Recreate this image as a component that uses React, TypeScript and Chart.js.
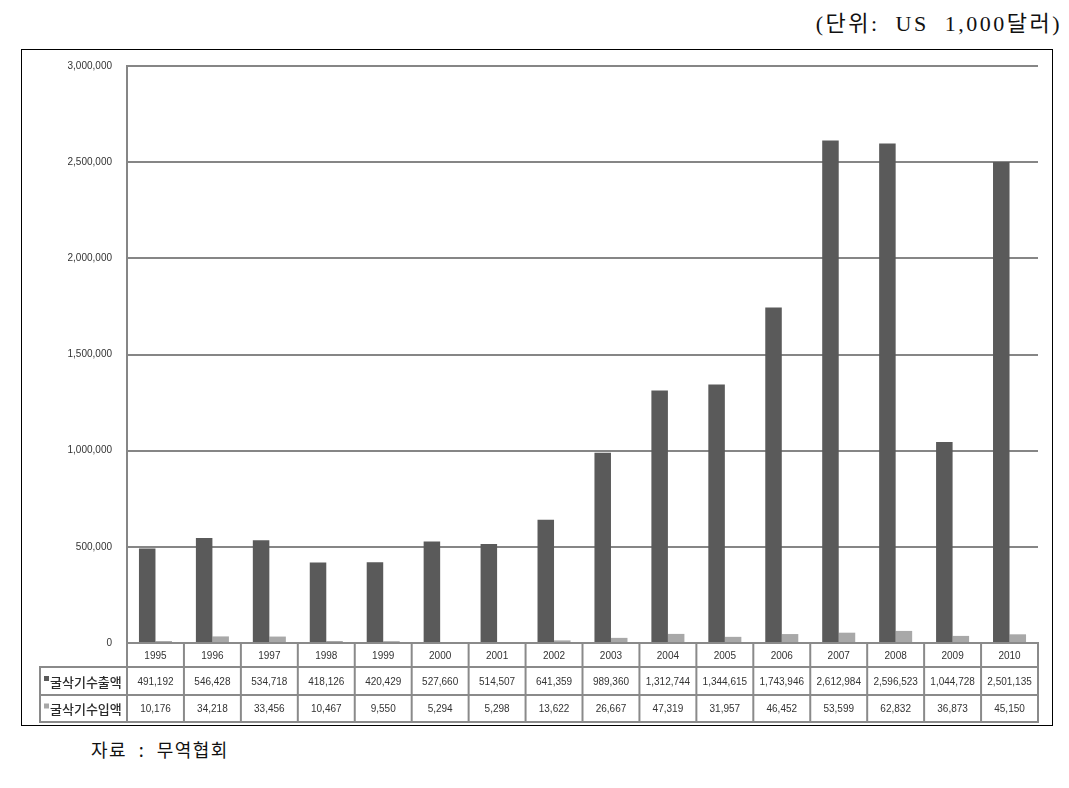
import React, { useEffect, useRef } from "react";
import { Chart, registerables } from "chart.js";

Chart.register(...registerables);

const years = ["1995", "1996", "1997", "1998", "1999", "2000", "2001", "2002", "2003", "2004", "2005", "2006", "2007", "2008", "2009", "2010"];
const exportValues = [491192, 546428, 534718, 418126, 420429, 527660, 514507, 641359, 989360, 1312744, 1344615, 1743946, 2612984, 2596523, 1044728, 2501135];
const importValues = [10176, 34218, 33456, 10467, 9550, 5294, 5298, 13622, 26667, 47319, 31957, 46452, 53599, 62832, 36873, 45150];
const seriesNames = ["굴삭기수출액", "굴삭기수입액"];
const seriesColors = ["#5a5a5a", "#a8a8a8"];
const yMin = 0;
const yMax = 3000000;
const yStep = 500000;
const unitText = "(단위:  US  1,000달러)";
const sourceText = "자료 : 무역협회";

const fmt = (v: number) => v.toLocaleString("en-US");

const tablePlugin = {
  id: "dataTable",
  afterDraw(chart: any) {
    const ctx = chart.ctx as CanvasRenderingContext2D;
    const xs = chart.scales.x;
    const area = chart.chartArea;
    const labels: string[] = chart.data.labels;
    const n = labels.length;
    const colW = (area.right - area.left) / n;
    const rowH = [24, 28, 27];
    const top = area.bottom;
    const r1 = top + rowH[0];
    const r2 = r1 + rowH[1];
    const r3 = r2 + rowH[2];
    const labelLeft = 18;
    const line = (x1: number, y1: number, x2: number, y2: number) => {
      ctx.beginPath();
      ctx.moveTo(x1, y1);
      ctx.lineTo(x2, y2);
      ctx.stroke();
    };
    ctx.save();
    ctx.strokeStyle = "#8a8a8a";
    ctx.lineWidth = 2;
    line(area.left - 1, top, area.right + 1, top);
    line(labelLeft - 1, r1, area.right + 1, r1);
    line(labelLeft - 1, r2, area.right + 1, r2);
    line(labelLeft - 1, r3, area.right + 1, r3);
    for (let i = 0; i <= n; i++) {
      const xb = i < n ? xs.getPixelForValue(i) - colW / 2 : xs.getPixelForValue(n - 1) + colW / 2;
      line(xb, top, xb, r3);
    }
    line(labelLeft, r1, labelLeft, r3);

    ctx.fillStyle = "#333333";
    ctx.textAlign = "center";
    ctx.textBaseline = "middle";
    ctx.font = "10px 'Liberation Sans', Arial, sans-serif";
    const datasets = chart.data.datasets;
    for (let i = 0; i < n; i++) {
      const cx = xs.getPixelForValue(i);
      ctx.fillText(labels[i], cx, (top + r1) / 2 + 1);
      ctx.fillText(fmt(datasets[0].data[i]), cx, (r1 + r2) / 2 + 1);
      ctx.fillText(fmt(datasets[1].data[i]), cx, (r2 + r3) / 2 + 1);
    }
    const rows = [(r1 + r2) / 2, (r2 + r3) / 2];
    for (let k = 0; k < 2; k++) {
      ctx.fillStyle = datasets[k].backgroundColor;
      ctx.fillRect(labelLeft + 4, rows[k] - 5, 5, 5);
      ctx.fillStyle = "#2a2a2a";
      ctx.textAlign = "left";
      ctx.font = "500 13px 'Noto Sans CJK KR', sans-serif";
      ctx.fillText(datasets[k].label, labelLeft + 10, rows[k] + 1);
    }
    ctx.restore();
  },
};

export default function App() {
  const canvasRef = useRef<HTMLCanvasElement>(null);

  useEffect(() => {
    const canvas = canvasRef.current;
    if (!canvas) return;
    const chart = new Chart(canvas, {
      type: "bar",
      data: {
        labels: years,
        datasets: [
          { label: seriesNames[0], data: exportValues, backgroundColor: seriesColors[0], borderWidth: 0 },
          { label: seriesNames[1], data: importValues, backgroundColor: seriesColors[1], borderWidth: 0 },
        ],
      },
      options: {
        responsive: false,
        animation: false,
        devicePixelRatio: 1,
        layout: { padding: { left: 0, right: 13, top: 15, bottom: 81 } },
        datasets: { bar: { categoryPercentage: 0.58, barPercentage: 1.0 } },
        plugins: {
          legend: { display: false },
          tooltip: { enabled: false },
          title: { display: false },
        },
        scales: {
          x: {
            display: false,
            grid: { display: false },
          },
          y: {
            min: yMin,
            max: yMax,
            afterFit: (scale: any) => {
              scale.width = 105;
              scale.paddingTop = 0;
              scale.paddingBottom = 0;
            },
            ticks: {
              stepSize: yStep,
              padding: 15,
              color: "#333333",
              font: { family: "'Liberation Sans', Arial, sans-serif", size: 10 },
              callback: (v: any) => fmt(Number(v)),
            },
            grid: { color: "#868686", lineWidth: 2, drawTicks: false },
            border: { display: true, color: "#868686", width: 2 },
          },
        },
      },
      plugins: [tablePlugin],
    });
    return () => chart.destroy();
  }, []);

  return (
    <div style={{ position: "fixed", left: 0, top: 0, width: 1069, height: 788, background: "#ffffff", overflow: "hidden" }}>
      <div
        style={{
          position: "absolute",
          right: 7,
          top: 5,
          fontFamily: "'Liberation Serif', 'Noto Sans CJK KR', serif",
          fontSize: 22,
          fontWeight: 400,
          letterSpacing: 2.5,
          color: "#111",
          whiteSpace: "pre",
        }}
      >
        {unitText}
      </div>
      <div
        style={{
          position: "absolute",
          left: 21,
          top: 49,
          width: 1032,
          height: 677,
          border: "1.5px solid #000",
          boxSizing: "border-box",
        }}
      />
      <canvas ref={canvasRef} width={1029} height={673} style={{ position: "absolute", left: 22, top: 51 }} />
      <div
        style={{
          position: "absolute",
          left: 91,
          top: 736,
          fontFamily: "'Noto Sans CJK KR', sans-serif",
          fontSize: 18,
          letterSpacing: 1.5,
          wordSpacing: 6,
          color: "#111",
          whiteSpace: "pre",
        }}
      >
        {sourceText}
      </div>
    </div>
  );
}
